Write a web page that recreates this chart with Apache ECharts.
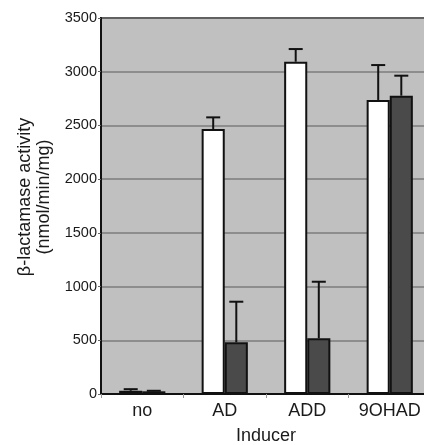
<!DOCTYPE html>
<html><head><meta charset="utf-8">
<script src="https://cdn.jsdelivr.net/npm/echarts@6/dist/echarts.min.js"></script>
<style>html,body{margin:0;padding:0;background:#fff}#c{width:424px;height:445px}</style>
</head><body><div id="c"></div>
<script>
const categories = ['no', 'AD', 'ADD', '9OHAD'];
const whiteValues = [30, 2467, 3093, 2737];
const whiteErrors = [15, 108, 118, 325];
const darkValues = [25, 481, 518, 2777];
const darkErrors = [5, 378, 527, 186];
const yTicks = [0, 500, 1000, 1500, 2000, 2500, 3000, 3500];

const GAP = 0.44;
function errItem(side) {
  return function (params, api) {
    const i = api.value(0);
    const v = api.value(1);
    const e = api.value(2);
    const band = api.size([1, 0])[0];
    const off = side * band * (1 - GAP) / 4;
    const base = api.coord([i, v]);
    const top = api.coord([i, v + e]);
    const x = base[0] + off;
    const cap = 7;
    return {
      type: 'group',
      children: [
        { type: 'line', shape: { x1: x, y1: base[1], x2: x, y2: top[1] }, style: { stroke: '#111', lineWidth: 2 } },
        { type: 'line', shape: { x1: x - cap, y1: top[1], x2: x + cap, y2: top[1] }, style: { stroke: '#111', lineWidth: 2 } }
      ]
    };
  };
}
const chart = echarts.init(document.getElementById('c'), null, { renderer: 'canvas' });
chart.setOption({
  animation: false,
  grid: { left: 101, top: 18, width: 330, height: 376, outerBoundsMode: 'none', containLabel: false,
    show: true, backgroundColor: '#c0c0c0', borderColor: '#111', borderWidth: 2 },
  xAxis: {
    type: 'category', data: categories,
    name: 'Inducer', nameLocation: 'middle', nameGap: 33,
    nameTextStyle: { fontFamily: 'Liberation Sans', fontSize: 18, color: '#1a1a1a' },
    axisLine: { lineStyle: { color: '#111', width: 2 } },
    axisTick: { show: true, length: 4, lineStyle: { color: '#999' } },
    axisLabel: { fontFamily: 'Liberation Sans', fontSize: 18, color: '#1a1a1a', margin: 8 }
  },
  yAxis: {
    type: 'value', min: yTicks[0], max: yTicks[yTicks.length - 1], interval: 500,
    name: 'β-lactamase activity\n(nmol/min/mg)', nameLocation: 'middle', nameGap: 47,
    nameTextStyle: { fontFamily: 'Liberation Sans', fontSize: 18, color: '#1a1a1a', lineHeight: 19, padding: [0, 0, 0, 18] },
    axisLine: { show: true, lineStyle: { color: '#111', width: 2 } },
    axisTick: { show: true, length: 3, lineStyle: { color: '#666' } },
    axisLabel: { fontFamily: 'Liberation Sans', fontSize: 14.5, color: '#1a1a1a', margin: 4, formatter: v => String(v) },
    splitLine: { lineStyle: { color: '#7d7d7d', width: 1.5 } }
  },
  series: [
    { type: 'bar', data: whiteValues, barGap: '0%', barCategoryGap: (GAP * 100) + '%',
      itemStyle: { color: '#ffffff', borderColor: '#111', borderWidth: 2 }, z: 2 },
    { type: 'bar', data: darkValues, barGap: '0%', barCategoryGap: (GAP * 100) + '%',
      itemStyle: { color: '#4a4a4a', borderColor: '#111', borderWidth: 2 }, z: 2 },
    { type: 'custom', renderItem: errItem(-1), data: categories.map((c, i) => [i, whiteValues[i], whiteErrors[i]]), z: 3 },
    { type: 'custom', renderItem: errItem(1), data: categories.map((c, i) => [i, darkValues[i], darkErrors[i]]), z: 3 }
  ]
});
</script></body></html>
